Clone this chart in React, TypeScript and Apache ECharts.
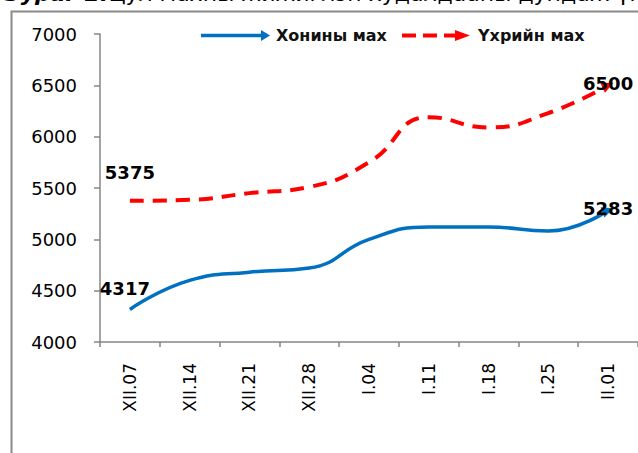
import React, { useEffect, useRef } from "react";
import * as echarts from "echarts";

const categories = ["XII.07", "XII.14", "XII.21", "XII.28", "I.04", "I.11", "I.18", "I.25", "II.01"];
const muttonValues = [4317, 4600, 4680, 4720, 5000, 5120, 5120, 5080, 5283];
const beefValues = [5375, 5385, 5450, 5510, 5750, 6190, 6090, 6230, 6500];
const yTicks = { min: 4000, max: 7000, interval: 500 };
const seriesNames = ["Хонины мах", "Үхрийн мах"];
const titleBold = "Зураг 2.";
const titleRest = "Цул махны жижиглэн худалдааны дундаж үнэ";

const BLUE = "#0070C0";
const RED = "#FF0000";
const FONT = "DejaVu Sans";

function buildData(values: number[], color: string, firstOffset: number[], lastOffset: number[], arrowRot: number) {
  const last = values.length - 1;
  return values.map((v, i) => {
    if (i === 0) {
      return {
        value: v,
        symbol: "circle",
        symbolSize: 1,
        itemStyle: { color: "rgba(0,0,0,0)" },
        label: { show: true, position: "inside", offset: firstOffset },
      };
    }
    if (i === last) {
      return {
        value: v,
        symbol: "triangle",
        symbolSize: [11, 12],
        symbolRotate: arrowRot,
        itemStyle: { color },
        label: { show: true, position: "inside", offset: lastOffset },
      };
    }
    return { value: v, symbol: "none" };
  });
}

export default function App() {
  const ref = useRef<HTMLDivElement>(null);
  useEffect(() => {
    document.body.style.margin = "0";
    const chart = echarts.init(ref.current!, null, { renderer: "svg" });
    const labelStyle = {
      color: "#000",
      fontFamily: FONT,
      fontWeight: "bold" as const,
      fontSize: 18,
      formatter: (p: any) => String(p.value),
    };
    chart.setOption({
      animation: false,
      backgroundColor: "#fff",
      grid: { left: 100, top: 34, width: 540, height: 308 },
      xAxis: {
        type: "category",
        data: categories,
        boundaryGap: true,
        axisLine: { lineStyle: { color: "#868686", width: 1.5 } },
        axisTick: { show: true, length: 5, lineStyle: { color: "#868686", width: 1.5 } },
        axisLabel: { rotate: 90, margin: 21, fontFamily: FONT, fontSize: 17, color: "#000" },
        splitLine: { show: false },
      },
      yAxis: {
        type: "value",
        min: yTicks.min,
        max: yTicks.max,
        interval: yTicks.interval,
        axisLine: { show: true, lineStyle: { color: "#868686", width: 1.5 } },
        axisTick: { show: true, length: 6, lineStyle: { color: "#868686", width: 1.5 } },
        axisLabel: { margin: 23, fontFamily: FONT, fontSize: 18, color: "#000", formatter: (v: number) => String(v) },
        splitLine: { show: false },
      },
      series: [
        {
          name: seriesNames[0],
          type: "line",
          smooth: 0.5,
          clip: false,
          symbol: "none",
          lineStyle: { color: BLUE, width: 3.5 },
          itemStyle: { color: BLUE },
          label: labelStyle,
          data: buildData(muttonValues, BLUE, [-5, -21], [0, -2], -70),
        },
        {
          name: seriesNames[1],
          type: "line",
          smooth: 0.5,
          clip: false,
          symbol: "none",
          lineStyle: { color: RED, width: 4, type: [14, 9] },
          itemStyle: { color: RED },
          label: labelStyle,
          data: buildData(beefValues, RED, [0, -28], [0, -2], -65),
        },
      ],
      graphic: [
        {
          type: "text",
          left: 5,
          top: -18,
          style: {
            text: `{a|${titleBold}}{b|${titleRest}}`,
            rich: {
              a: { fontFamily: FONT, fontSize: 22, fontWeight: "bold", fontStyle: "italic", fill: "#000" },
              b: { fontFamily: FONT, fontSize: 22, fill: "#000" },
            },
          },
        },
        {
          type: "rect",
          shape: { x: 11.5, y: 11.5, width: 700, height: 500 },
          style: { fill: "none", stroke: "#8a8a8a", lineWidth: 2 },
          silent: true,
        },
        {
          type: "line",
          shape: { x1: 201, y1: 35.5, x2: 262, y2: 35.5 },
          style: { stroke: BLUE, lineWidth: 3.5 },
        },
        {
          type: "polygon",
          shape: { points: [[261, 30], [270, 35.5], [261, 41]] },
          style: { fill: BLUE },
        },
        {
          type: "text",
          x: 276,
          y: 35.5,
          style: { text: seriesNames[0], fontFamily: FONT, fontSize: 16, fontWeight: "bold", fill: "#111", verticalAlign: "middle" },
        },
        {
          type: "line",
          shape: { x1: 402, y1: 35.5, x2: 458, y2: 35.5 },
          style: { stroke: RED, lineWidth: 4, lineDash: [14, 7] },
        },
        {
          type: "polygon",
          shape: { points: [[455, 30], [470, 35.5], [455, 41]] },
          style: { fill: RED },
        },
        {
          type: "text",
          x: 478,
          y: 35.5,
          style: { text: seriesNames[1], fontFamily: FONT, fontSize: 16, fontWeight: "bold", fill: "#111", verticalAlign: "middle" },
        },
      ],
    });
    return () => chart.dispose();
  }, []);
  return <div ref={ref} style={{ width: 638, height: 453 }} />;
}
